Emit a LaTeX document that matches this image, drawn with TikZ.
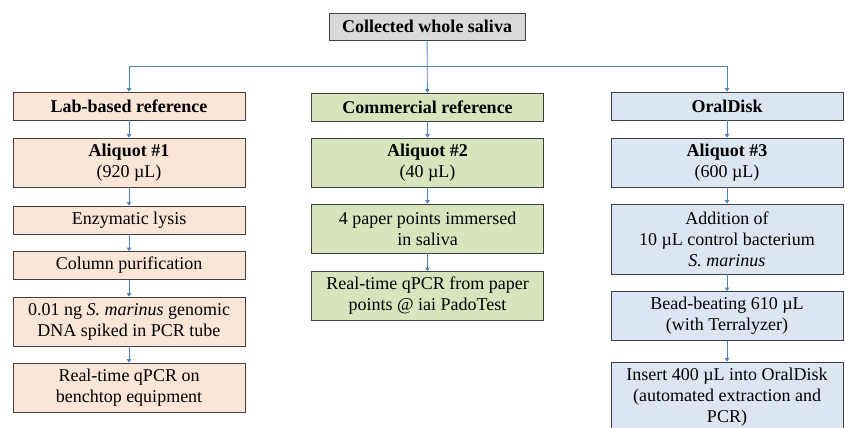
\documentclass[tikz,border=0pt]{standalone}
\usepackage{fontspec}
\setmainfont{Liberation Serif}
\usepackage{tikz}
\usetikzlibrary{positioning, arrows.meta, calc}
\definecolor{peach}{RGB}{251,229,214}
\definecolor{sage}{RGB}{216,228,190}
\definecolor{sky}{RGB}{220,230,242}
\definecolor{stone}{RGB}{217,217,217}
\definecolor{rim}{RGB}{64,64,64}
\definecolor{flow}{RGB}{79,129,189}
\newcommand{\uL}{µL}
\newcommand{\smar}{\textit{S.~marinus}}

\begin{document}
\begin{tikzpicture}[x=1pt, y=-1pt,
  box/.style={draw=rim, line width=0.8pt, minimum width=232pt, minimum height=28pt,
    inner sep=2pt, align=center, font=\fontsize{18}{21}\selectfont},
  lbox/.style={box, fill=peach},
  gbox/.style={box, fill=sage},
  bbox/.style={box, fill=sky},
  two/.style={minimum height=49pt},
  three/.style={minimum height=70pt},
  link/.style={flow, line width=0.8pt, -{Triangle[width=4.5pt,length=3.5pt]}},
  wire/.style={flow, line width=0.8pt}]
\useasboundingbox (0,0) rectangle (847,428);
\node[box, fill=stone, minimum width=196pt, minimum height=27pt] (top) at (427,26.5) {\textbf{Collected whole saliva}};
\coordinate (bus) at (427,66);
% lab-based column
\node[lbox] (labref) at (129,106) {\textbf{Lab-based reference}};
\node[lbox, two] (aliq1) at (129,162.5) {\textbf{Aliquot \#1}\\(920 \uL)};
\node[lbox] (lysis) at (129,220) {Enzymatic lysis};
\node[lbox] (column) at (129,265.5) {Column purification};
\node[lbox, two] (spike) at (129,321.5) {0.01 ng \smar{} genomic\\DNA spiked in PCR tube};
\node[lbox, two] (qpcr1) at (129,387.5) {Real-time qPCR on\\benchtop equipment};
% commercial column
\node[gbox] (comref) at (427.5,107) {\textbf{Commercial reference}};
\node[gbox, two] (aliq2) at (427.5,162.5) {\textbf{Aliquot \#2}\\(40 \uL)};
\node[gbox, two] (points) at (427.5,228.5) {4 paper points immersed\\in saliva};
\node[gbox, two] (qpcr2) at (427.5,296) {Real-time qPCR from paper\\points @ iai PadoTest};
% OralDisk column
\node[bbox] (oral) at (727,106) {\textbf{OralDisk}};
\node[bbox, two] (aliq3) at (727,162.5) {\textbf{Aliquot \#3}\\(600 \uL)};
\node[bbox, three] (addit) at (727,239) {Addition of\\10 \uL{} control bacterium\\\smar};
\node[bbox, two] (beads) at (727,316) {Bead-beating 610 \uL\\(with Terralyzer)};
\node[bbox, three] (insert) at (727,397) {Insert 400 \uL{} into OralDisk\\(automated extraction and\\PCR)};
% connectors
\draw[link] (top) -- (comref);
\draw[wire] (labref |- bus) -- (oral |- bus);
\draw[link] (labref |- bus) -- (labref);
\draw[link] (oral |- bus) -- (oral);
\draw[link] (labref) -- (aliq1);
\draw[link] (aliq1) -- (lysis);
\draw[link] (lysis) -- (column);
\draw[link] (column) -- (spike);
\draw[link] (spike) -- (qpcr1);
\draw[link] (comref) -- (aliq2);
\draw[link] (aliq2) -- (points);
\draw[link] (points) -- (qpcr2);
\draw[link] (oral) -- (aliq3);
\draw[link] (aliq3) -- (addit);
\draw[link] (addit) -- (beads);
\draw[link] (beads) -- (insert);
\end{tikzpicture}
\end{document}
